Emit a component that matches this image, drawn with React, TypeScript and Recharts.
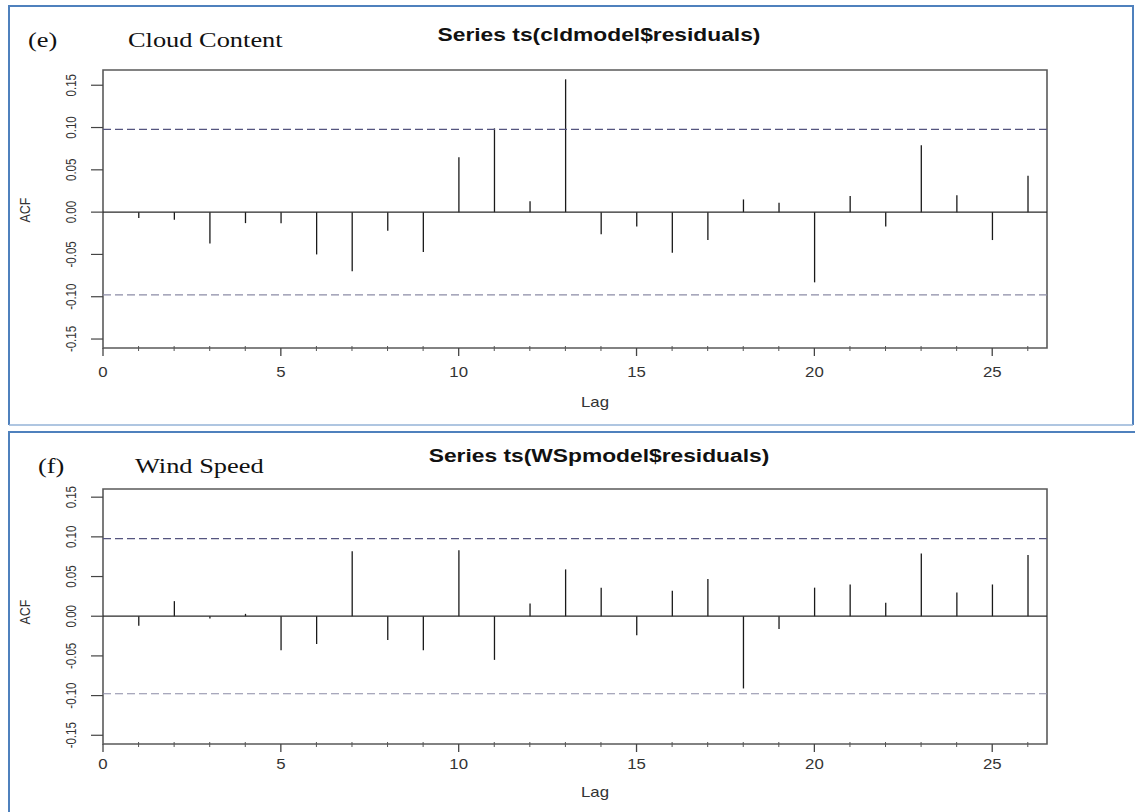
import React from 'react';
import { ComposedChart, Bar, XAxis, YAxis, ReferenceLine, ReferenceArea } from 'recharts';

// ---- data ----
const lags = [1, 2, 3, 4, 5, 6, 7, 8, 9, 10, 11, 12, 13, 14, 15, 16, 17, 18, 19, 20, 21, 22, 23, 24, 25, 26];
const cloudAcf = [-0.007, -0.009, -0.037, -0.013, -0.013, -0.05, -0.07, -0.022, -0.047, 0.065, 0.099, 0.013, 0.157,
  -0.026, -0.017, -0.048, -0.033, 0.015, 0.011, -0.083, 0.019, -0.017, 0.079, 0.02, -0.033, 0.043];
const windAcf = [-0.012, 0.019, -0.003, 0.003, -0.043, -0.035, 0.082, -0.03, -0.043, 0.083, -0.055, 0.016, 0.059,
  0.036, -0.024, 0.032, 0.047, -0.091, -0.016, 0.036, 0.04, 0.017, 0.079, 0.03, 0.04, 0.077];
const ciBound = 0.0977;
const xTicks = [0, 1, 2, 3, 4, 5, 6, 7, 8, 9, 10, 11, 12, 13, 14, 15, 16, 17, 18, 19, 20, 21, 22, 23, 24, 25, 26];
const xMajorTicks = [0, 5, 10, 15, 20, 25];
const xTickLabels = ['0', '5', '10', '15', '20', '25'];
const yTicks = [-0.15, -0.1, -0.05, 0, 0.05, 0.1, 0.15];
const yTickLabels = ['-0.15', '-0.10', '-0.05', '0.00', '0.05', '0.10', '0.15'];

const cloudData = lags.map((lag, i) => ({ lag, acf: cloudAcf[i] }));
const windData = lags.map((lag, i) => ({ lag, acf: windAcf[i] }));

const X_DOMAIN: [number, number] = [0, 26.54];

const SANS = '"Liberation Sans", Arial, sans-serif';
const SERIF = '"Liberation Serif", "Times New Roman", serif';

const Stem = (props: any) => {
  const { x, y, width, height } = props;
  if (x == null || y == null) return null;
  const cx = x + width / 2;
  return <line x1={cx} x2={cx} y1={y} y2={y + height} stroke="#1a1a1a" strokeWidth={1.3} />;
};

const makeXTick = (labelOffset: number) => (props: any) => {
  const { x, y, payload } = props;
  const v = payload.value;
  const idx = xMajorTicks.indexOf(v);
  if (idx >= 0) {
    return (
      <g>
        <line x1={x} x2={x} y1={y} y2={y + 8} stroke="#444" strokeWidth={1.3} />
        <text transform={`translate(${x},${y + labelOffset}) scale(1.2,1)`} textAnchor="middle" fontSize={14}
          fill="#333" fontFamily={SANS}>{xTickLabels[idx]}</text>
      </g>
    );
  }
  return <line x1={x} x2={x} y1={y - 2} y2={y + 3} stroke="#555" strokeWidth={1} />;
};

const YTick = (props: any) => {
  const { x, y, payload } = props;
  const idx = yTicks.findIndex((t) => Math.abs(t - payload.value) < 1e-9);
  return (
    <g>
      <line x1={x - 12} x2={x} y1={y} y2={y} stroke="#444" strokeWidth={1.2} />
      <text transform={`translate(${x - 27},${y}) scale(1.2,1) rotate(-90)`} textAnchor="middle" fontSize={11.5}
        fill="#333" fontFamily={SANS}>{idx >= 0 ? yTickLabels[idx] : ''}</text>
    </g>
  );
};

function AcfChart(props: { data: any[]; width: number; height: number; marginTop: number; marginBottom: number; domain: [number, number]; labelOffset: number }) {
  const { data, width, height, marginTop, marginBottom, domain, labelOffset } = props;
  const XTick = makeXTick(labelOffset);
  return (
    <ComposedChart width={width} height={height} data={data}
      margin={{ top: marginTop, right: 88, bottom: marginBottom, left: 43 }}>
      <XAxis type="number" dataKey="lag" domain={X_DOMAIN} ticks={xTicks} interval={0} allowDataOverflow
        axisLine={false} tickLine={false} tickSize={0} tickMargin={0} height={30} tick={<XTick />} />
      <YAxis type="number" domain={domain} ticks={yTicks} interval={0} allowDataOverflow width={60}
        axisLine={false} tickLine={false} tickSize={0} tickMargin={0} tick={<YTick />} />
      <ReferenceArea x1={X_DOMAIN[0]} x2={X_DOMAIN[1]} y1={domain[0]} y2={domain[1]} fill="none" fillOpacity={0}
        stroke="#5a5a5a" strokeWidth={1.6} ifOverflow="visible" />
      <ReferenceLine y={ciBound} stroke="#55557f" strokeWidth={1.2} strokeDasharray="8 4" />
      <ReferenceLine y={-ciBound} stroke="#8c8ca6" strokeWidth={1.2} strokeDasharray="8 4" />
      <ReferenceLine y={0} stroke="#2a2a2a" strokeWidth={1.2} />
      <Bar dataKey="acf" barSize={2} isAnimationActive={false} shape={<Stem />} />
    </ComposedChart>
  );
}

export default function App() {
  return (
    <div style={{ position: 'absolute', left: 0, top: 0, width: 1135, height: 812, background: '#fff', overflow: 'hidden' }}>
      <div style={{ position: 'absolute', left: 0, top: 0 }}>
        <AcfChart data={cloudData} width={1135} height={425} marginTop={70} marginBottom={47}
          domain={[-0.1606, 0.168]} labelOffset={29} />
      </div>
      <div style={{ position: 'absolute', left: 0, top: 425 }}>
        <AcfChart data={windData} width={1135} height={387} marginTop={64} marginBottom={38}
          domain={[-0.161, 0.1603]} labelOffset={25} />
      </div>
      <svg style={{ position: 'absolute', left: 0, top: 0, pointerEvents: 'none' }} width={1135} height={812}>
        {/* panel borders */}
        <line x1={9} y1={6} x2={1133} y2={6} stroke="#4f81bd" strokeWidth={2} />
        <line x1={9} y1={5} x2={9} y2={425} stroke="#4f81bd" strokeWidth={2} />
        <line x1={1133} y1={5} x2={1133} y2={425} stroke="#4f81bd" strokeWidth={2} />
        <line x1={9} y1={425} x2={1133} y2={425} stroke="#95b3d7" strokeWidth={1.5} />
        <line x1={8} y1={432} x2={1135} y2={432} stroke="#4f81bd" strokeWidth={2} />
        <line x1={9} y1={431} x2={9} y2={812} stroke="#4f81bd" strokeWidth={2} />

        {/* panel 1 texts */}
        <text transform="translate(28,47) scale(1.2,1)" fontSize={22} fontFamily={SERIF} fill="#111">(e)</text>
        <text transform="translate(128,47) scale(1.2,1)" fontSize={22} fontFamily={SERIF} fill="#111">Cloud Content</text>
        <text transform="translate(599,41) scale(1.2,1)" textAnchor="middle" fontSize={19} fontWeight="bold" fontFamily={SANS} fill="#111">Series  ts(cldmodel$residuals)</text>
        <text transform="translate(30,210) scale(1.2,1) rotate(-90)" textAnchor="middle" fontSize={12.5} fontFamily={SANS} fill="#333">ACF</text>
        <text transform="translate(595,407) scale(1.2,1)" textAnchor="middle" fontSize={14} fontFamily={SANS} fill="#333">Lag</text>

        {/* panel 2 texts */}
        <text transform="translate(38,473) scale(1.2,1)" fontSize={22} fontFamily={SERIF} fill="#111">(f)</text>
        <text transform="translate(135,473) scale(1.2,1)" fontSize={22} fontFamily={SERIF} fill="#111">Wind Speed</text>
        <text transform="translate(599,462) scale(1.2,1)" textAnchor="middle" fontSize={19} fontWeight="bold" fontFamily={SANS} fill="#111">Series  ts(WSpmodel$residuals)</text>
        <text transform="translate(30,612) scale(1.2,1) rotate(-90)" textAnchor="middle" fontSize={12.5} fontFamily={SANS} fill="#333">ACF</text>
        <text transform="translate(595,797) scale(1.2,1)" textAnchor="middle" fontSize={14} fontFamily={SANS} fill="#333">Lag</text>
      </svg>
    </div>
  );
}
